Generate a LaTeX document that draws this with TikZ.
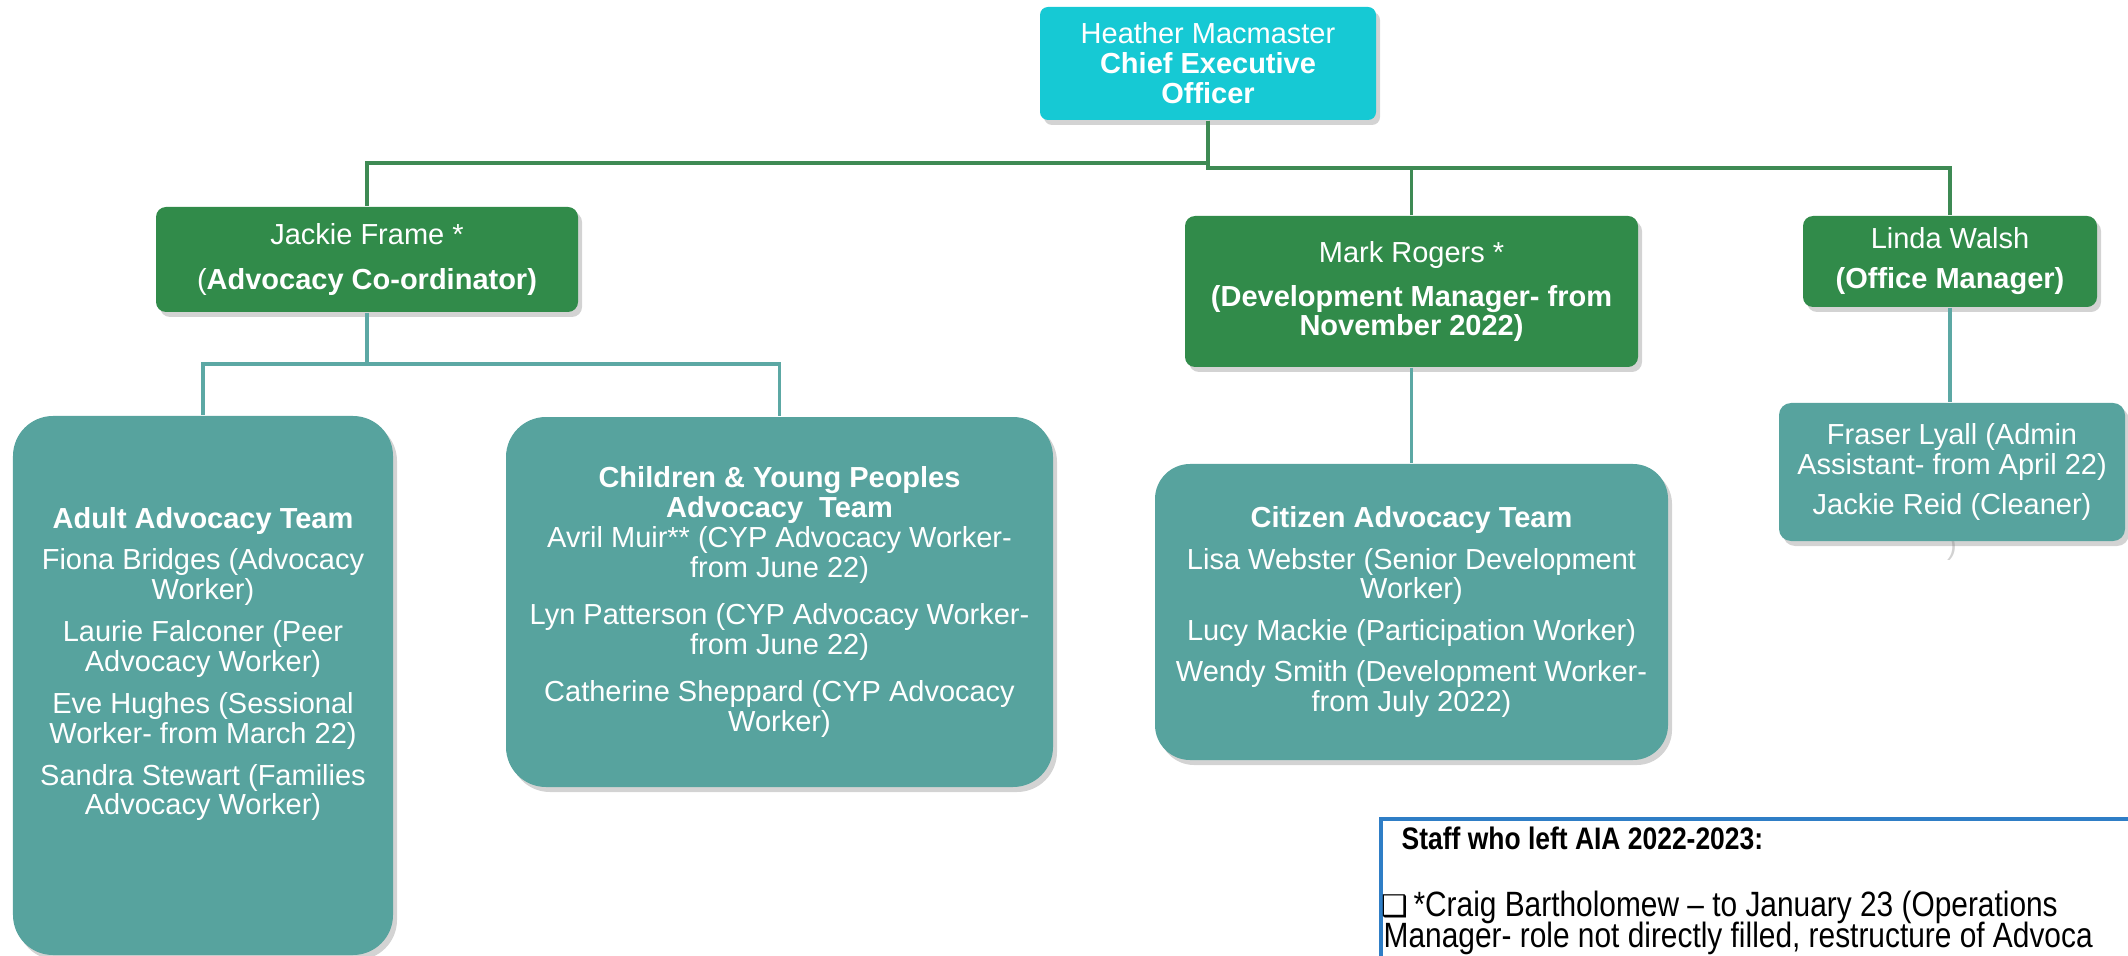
\documentclass[tikz,border=0pt]{standalone}
\usepackage{fontspec}
\setmainfont{Liberation Sans}
\newfontfamily\narrowfont[FakeStretch=0.85]{Liberation Sans}
\newfontfamily\symfont{DejaVu Sans}
\usepackage{xcolor}
\usetikzlibrary{positioning,shadows}

\definecolor{ceoblue}{RGB}{22,201,212}
\definecolor{leadgreen}{RGB}{49,139,74}
\definecolor{teamteal}{RGB}{87,163,158}
\definecolor{linegreen}{RGB}{62,138,84}
\definecolor{lineteal}{RGB}{92,168,164}
\definecolor{noteblue}{RGB}{47,126,198}

\begin{document}
\begin{tikzpicture}[
		every node/.style={inner sep=0pt, text=white, align=center,
			font=\fontsize{8.25}{8.5}\selectfont},
		box/.style={rectangle, rounded corners=#1,
			drop shadow={shadow xshift=0.04cm, shadow yshift=-0.05cm, opacity=0.35}},
		topbox/.style={box=0.08cm, fill=ceoblue},
		leadbox/.style={box=0.1cm, fill=leadgreen},
		teambox/.style={box=#1, fill=teamteal},
		teambox/.default=0.4cm,
		greenline/.style={draw=linegreen, line width=1pt},
		tealline/.style={draw=lineteal, line width=1pt},
		notetext/.style={anchor=base west, text=black, align=left,
			font=\narrowfont\fontsize{10}{10}\selectfont}]
	
	\useasboundingbox (0,0) rectangle (21.28,-9.56);
	\clip (0,0) rectangle (21.28,-9.56);
	
	% chief executive and the three leads
	\node[topbox, minimum width=3.36cm, minimum height=1.13cm] (ceo) at (12.08,-0.635)
		{Heather Macmaster\\ \textbf{Chief Executive}\\ \textbf{Officer}};
	\node[leadbox, minimum width=4.22cm, minimum height=1.05cm] (jackie) at (3.67,-2.595)
		{Jackie Frame *\\[4.3pt] (\textbf{Advocacy Co-ordinator)}};
	\node[leadbox, minimum width=4.53cm, minimum height=1.51cm] (mark) at (14.115,-2.915)
		{Mark Rogers *\\[4pt] \textbf{(Development Manager- from}\\ \textbf{November 2022)}};
	\node[leadbox, minimum width=2.94cm, minimum height=0.91cm] (linda) at (19.50,-2.615)
		{Linda Walsh\\[2.9pt] \textbf{(Office Manager)}};
	
	% teams
	\node[teambox, minimum width=3.80cm, minimum height=5.39cm] (adult) at (2.03,-6.855) {};
	\node (adulttxt) at (2.03,-6.64)
		{\textbf{Adult Advocacy Team}\\[3.4pt]
		Fiona Bridges (Advocacy\\ Worker)\\[3.4pt]
		Laurie Falconer (Peer\\ Advocacy Worker)\\[3.4pt]
		Eve Hughes (Sessional\\ Worker- from March 22)\\[3.4pt]
		Sandra Stewart (Families\\ Advocacy Worker)};
	\node[teambox, minimum width=5.47cm, minimum height=3.70cm] (cyp) at (7.795,-6.02)
		{\textbf{Children \& Young Peoples}\\ \textbf{Advocacy\ \ Team}\\
		Avril Muir** (CYP Advocacy Worker-\\ from June 22)\\[4.9pt]
		Lyn Patterson (CYP Advocacy Worker-\\ from June 22)\\[4.9pt]
		Catherine Sheppard (CYP Advocacy\\ Worker)};
	\node[teambox=0.35cm, minimum width=5.13cm, minimum height=2.96cm] (citizen) at (14.115,-6.12)
		{\textbf{Citizen Advocacy Team}\\[3.2pt]
		Lisa Webster (Senior Development\\ Worker)\\[3.2pt]
		Lucy Mackie (Participation Worker)\\[3.2pt]
		Wendy Smith (Development Worker-\\ from July 2022)};
	\node[text=gray!35] (fraserfoot) at (19.52,-5.47) {)};
	\node[teambox=0.12cm, minimum width=3.46cm, minimum height=1.38cm] (fraser) at (19.52,-4.72)
		{Fraser Lyall (Admin\\ Assistant- from April 22)\\[2.9pt] Jackie Reid (Cleaner)};
	
	% bus rows
	\coordinate (leftbus) at (0,-1.63);
	\coordinate (rightbus) at (0,-1.68);
	\coordinate (teambus) at (0,-3.64);
	
	\draw[greenline] (ceo.south) -- (ceo.south |- leftbus) -| (jackie.north);
	\draw[greenline] (ceo.south) -- (ceo.south |- rightbus) -| (linda.north);
	\draw[greenline] (mark.north) -- (mark.north |- rightbus);
	\draw[tealline] (jackie.south) -- (jackie.south |- teambus) -| (adult.north);
	\draw[tealline] (jackie.south |- teambus) -| (cyp.north);
	\draw[tealline] (mark.south) -- (citizen.north);
	\draw[tealline] (linda.south) -- (linda.south |- fraser.north);
	
	% leavers note
	\node[draw=noteblue, line width=1pt, fill=white, anchor=north west,
		minimum width=8cm, minimum height=2cm] (leavers) at (13.79,-8.17) {};
	\node[notetext, font=\narrowfont\fontsize{8.85}{9}\selectfont\bfseries] (leavershead) at (14.01,-8.49)
		{Staff who left AIA 2022-2023:};
	\node[notetext] (leaverone) at (13.81,-9.16)
		{{\symfont\fontsize{8.5}{8.5}\selectfont ❑}\hspace{0.05cm}*Craig Bartholomew – to January 23 (Operations};
	\node[notetext] (leavertwo) at (13.83,-9.47)
		{Manager- role not directly filled, restructure of Advoca};
	
\end{tikzpicture}
\end{document}
